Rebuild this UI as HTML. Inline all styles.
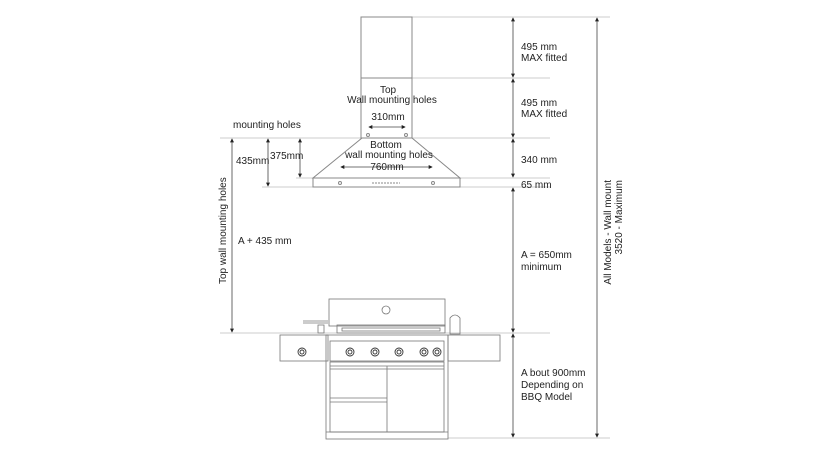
<!DOCTYPE html>
<html><head><style>
html,body{margin:0;padding:0;background:#fff;}
svg{display:block;}
text{font-family:"Liberation Sans",Arial,sans-serif;font-size:10px;fill:#222;}
</style></head><body>
<svg width="840" height="450" viewBox="0 0 840 450" xmlns="http://www.w3.org/2000/svg">
<defs>
<marker id="a" viewBox="0 0 6 6" refX="5" refY="3" markerWidth="5" markerHeight="5" orient="auto-start-reverse"><path d="M0,0 L6,3 L0,6z" fill="#222"/></marker>
</defs>
<g stroke="#ccc" stroke-width="1" fill="none">
<line x1="361" y1="17" x2="610" y2="17"/>
<line x1="361" y1="78" x2="550" y2="78"/>
<line x1="220" y1="138" x2="550" y2="138"/>
<line x1="296" y1="178" x2="550" y2="178"/>
<line x1="262" y1="187" x2="550" y2="187"/>
<line x1="220" y1="333" x2="550" y2="333"/>
<line x1="448" y1="438" x2="610" y2="438"/>
</g>
<g stroke="#888" stroke-width="1" fill="none">
<rect x="361" y="17" width="51" height="121"/>
<line x1="361" y1="78" x2="412" y2="78"/>
<path d="M362,138 L313,178 L460,178 L412,138"/>
<rect x="313" y="178" width="147" height="9"/>
<circle cx="340" cy="183" r="1.5"/><circle cx="433" cy="183" r="1.5"/>
<line x1="372" y1="183" x2="400" y2="183" stroke-dasharray="2,1"/>
<circle cx="368" cy="135" r="1.5"/><circle cx="406" cy="135" r="1.5"/>
</g>
<g stroke="#444" stroke-width="0.8" fill="none">
<line x1="513" y1="18" x2="513" y2="77" marker-start="url(#a)" marker-end="url(#a)"/>
<line x1="513" y1="79" x2="513" y2="137" marker-start="url(#a)" marker-end="url(#a)"/>
<line x1="513" y1="139" x2="513" y2="177" marker-start="url(#a)" marker-end="url(#a)"/>
<line x1="513" y1="188" x2="513" y2="332" marker-start="url(#a)" marker-end="url(#a)"/>
<line x1="513" y1="334" x2="513" y2="437" marker-start="url(#a)" marker-end="url(#a)"/>
<line x1="597" y1="18" x2="597" y2="437" marker-start="url(#a)" marker-end="url(#a)"/>
<line x1="232" y1="139" x2="232" y2="332" marker-start="url(#a)" marker-end="url(#a)"/>
<line x1="268" y1="139" x2="268" y2="186" marker-start="url(#a)" marker-end="url(#a)"/>
<line x1="300" y1="139" x2="300" y2="177" marker-start="url(#a)" marker-end="url(#a)"/>
<line x1="341" y1="167" x2="432" y2="167" marker-start="url(#a)" marker-end="url(#a)"/>
<line x1="369" y1="127" x2="405" y2="127" marker-start="url(#a)" marker-end="url(#a)"/>
</g>
<!-- BBQ -->
<g stroke="#777" stroke-width="0.8" fill="none">
<rect x="329" y="299" width="116" height="27"/>
<circle cx="386" cy="310" r="4"/>
<rect x="337" y="325" width="108" height="8"/>
<rect x="342" y="328" width="98" height="3"/>
<path d="M450,334 L450,318 Q455,312 460,318 L460,334z"/>
<line x1="303" y1="321" x2="328" y2="321"/><line x1="303" y1="323" x2="328" y2="323"/>
<rect x="318" y="325" width="6" height="8"/>
<rect x="280" y="335" width="48" height="26"/>
<rect x="448" y="335" width="52" height="26"/>
<rect x="326" y="335" width="122" height="104"/>
<rect x="330" y="341" width="114" height="20"/>
<rect x="330" y="362" width="114" height="70"/>
<line x1="330" y1="366" x2="444" y2="366"/><line x1="330" y1="369" x2="444" y2="369"/>
<line x1="387" y1="366" x2="387" y2="432"/>
<line x1="330" y1="398" x2="387" y2="398"/><line x1="330" y1="402" x2="387" y2="402"/>
<line x1="326" y1="432" x2="448" y2="432"/>
</g>
<g stroke="#333" stroke-width="0.9" fill="none">
<circle cx="302" cy="352" r="4"/><circle cx="302" cy="352" r="2"/>
<circle cx="350" cy="352" r="4"/><circle cx="350" cy="352" r="2"/>
<circle cx="375" cy="352" r="4"/><circle cx="375" cy="352" r="2"/>
<circle cx="399" cy="352" r="4"/><circle cx="399" cy="352" r="2"/>
<circle cx="424" cy="352" r="4"/><circle cx="424" cy="352" r="2"/>
<circle cx="437" cy="352" r="4"/><circle cx="437" cy="352" r="2"/>
</g>
<text x="388" y="93" text-anchor="middle">Top</text>
<text x="392" y="103" text-anchor="middle">Wall mounting holes</text>
<text x="388" y="120" text-anchor="middle">310mm</text>
<text x="233" y="128">mounting holes</text>
<text x="386" y="148" text-anchor="middle">Bottom</text>
<text x="389" y="158" text-anchor="middle">wall mounting holes</text>
<text x="387" y="170" text-anchor="middle">760mm</text>
<text x="236" y="164">435mm</text>
<text x="270" y="159">375mm</text>
<text x="238" y="244">A + 435 mm</text>
<text transform="translate(226,284) rotate(-90)">Top wall mounting holes</text>
<text x="521" y="50">495 mm</text><text x="521" y="61">MAX fitted</text>
<text x="521" y="106">495 mm</text><text x="521" y="117">MAX fitted</text>
<text x="521" y="163">340 mm</text>
<text x="521" y="188">65 mm</text>
<text x="521" y="258">A = 650mm</text><text x="521" y="270">minimum</text>
<text x="521" y="376">A bout 900mm</text><text x="521" y="388">Depending on</text><text x="521" y="400">BBQ Model</text>
<text transform="translate(611,180) rotate(-90)" text-anchor="end">All Models - Wall mount</text>
<text transform="translate(622,180) rotate(-90)" text-anchor="end">3520 - Maximum</text>
</svg>
</body></html>
